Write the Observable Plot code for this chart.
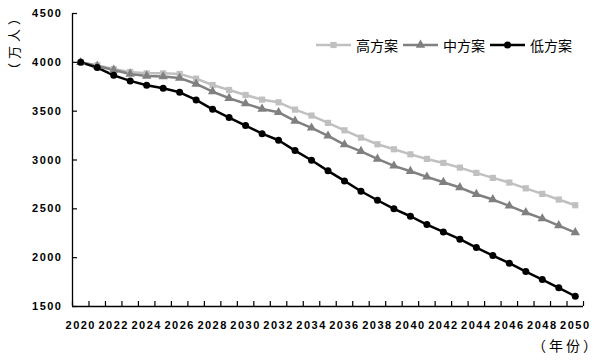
<!DOCTYPE html>
<html><head><meta charset="utf-8">
<script src="https://cdn.jsdelivr.net/npm/d3@7"></script>
<script src="https://cdn.jsdelivr.net/npm/@observablehq/plot@0.6"></script>
<style>
body{margin:0;background:#fff;}
#wrap{position:relative;width:601px;height:360px;overflow:hidden;}
#legend{position:absolute;left:316px;top:36px;height:18px;display:flex;align-items:center;font:14px "Noto Sans CJK SC",sans-serif;color:#000;}
#legend .item{display:flex;align-items:center;margin-right:5px;}
#legend svg{margin-right:5px;display:block;}
.title{position:absolute;font:14px "Noto Sans CJK SC",sans-serif;color:#000;white-space:nowrap;line-height:1;}
#ytitle{left:13px;top:41.5px;font-size:13px;letter-spacing:4px;transform:translate(-50%,-50%) rotate(-90deg);}
#xtitle{left:532px;top:338px;letter-spacing:3px;}
.chart g[aria-label="y-axis tick label"] text,.chart g[aria-label="x-axis tick label"] text{letter-spacing:1.5px;}
</style></head><body><div id="wrap"></div>
<script>
const series = ["高方案", "中方案", "低方案"];
const years = [2020,2021,2022,2023,2024,2025,2026,2027,2028,2029,2030,2031,2032,2033,2034,2035,2036,2037,2038,2039,2040,2041,2042,2043,2044,2045,2046,2047,2048,2049,2050];
const high = [4000,3969,3932,3902,3887,3887,3881,3833,3768,3717,3666,3618,3591,3516,3455,3380,3304,3229,3161,3110,3058,3011,2970,2922,2868,2817,2769,2710,2653,2595,2537];
const mid  = [4000,3963,3922,3881,3861,3854,3840,3779,3700,3632,3577,3523,3488,3400,3329,3247,3158,3089,3011,2940,2885,2827,2772,2718,2649,2595,2530,2462,2400,2329,2257];
const low  = [4000,3946,3867,3810,3765,3734,3693,3615,3519,3434,3352,3270,3202,3096,2997,2889,2786,2680,2588,2500,2424,2339,2264,2189,2104,2022,1943,1858,1776,1691,1605];
const yTicks = [1500,2000,2500,3000,3500,4000,4500];
const xLabels = [2020,2022,2024,2026,2028,2030,2032,2034,2036,2038,2040,2042,2044,2046,2048,2050];
const colors = ["#c0c0c0", "#808080", "#000000"];
const symbols = ["square", "triangle", "circle"];
const yTitle = "（万人）";
const xTitle = "（年份）";

const values = [high, mid, low];
const data = [];
series.forEach((s, k) => years.forEach((yr, i) => data.push({year: yr, v: values[k][i], s})));
const bounds = years.map(y => y - 0.5).concat([years[years.length - 1] + 0.5]);

const W = 601, H = 360, mL = 72, mR = 18, mT = 13, mB = 54, tick = 5;
const plotW = W - mL - mR, plotH = H - mT - mB;

const chart = Plot.plot({
  width: W, height: H,
  marginLeft: mL, marginRight: mR, marginTop: mT, marginBottom: mB,
  className: "chart",
  style: {fontFamily: "'Liberation Sans', Arial, sans-serif", fontSize: "11px", fontWeight: "bold", color: "#000", background: "#fff", overflow: "visible"},
  x: {domain: [bounds[0], bounds[bounds.length - 1]]},
  y: {domain: [yTicks[0], yTicks[yTicks.length - 1]]},
  color: {domain: series, range: colors},
  symbol: {domain: series, range: symbols},
  marks: [
    Plot.axisY({ticks: yTicks, tickSize: 0, tickPadding: 10, tickFormat: d => String(d), label: null}),
    Plot.axisX({ticks: xLabels, tickSize: 0, tickPadding: 15, tickFormat: d => String(d), label: null}),
    Plot.ruleY(yTicks, {y: d => d, insetRight: plotW - tick, stroke: "#000", strokeWidth: 1.2}),
    Plot.ruleX(bounds, {x: d => d, insetTop: plotH - tick, stroke: "#000", strokeWidth: 1.2}),
    Plot.ruleX([bounds[0]], {stroke: "#000", strokeWidth: 1.3}),
    Plot.ruleY([yTicks[0]], {stroke: "#000", strokeWidth: 1.3}),
    Plot.line(data, {x: "year", y: "v", z: "s", stroke: "s", strokeWidth: 2.5}),
    Plot.dot(data, {x: "year", y: "v", fill: "s", symbol: "s", r: 3.5, stroke: "none"})
  ]
});
const wrap = document.getElementById("wrap");
wrap.appendChild(chart);

const yt = document.createElement("div");
yt.className = "title"; yt.id = "ytitle"; yt.textContent = yTitle;
wrap.appendChild(yt);
const xt = document.createElement("div");
xt.className = "title"; xt.id = "xtitle"; xt.textContent = xTitle;
wrap.appendChild(xt);

const legend = document.createElement("div");
legend.id = "legend";
const ns = "http://www.w3.org/2000/svg";
series.forEach((s, k) => {
  const item = document.createElement("div");
  item.className = "item";
  const svg = document.createElementNS(ns, "svg");
  svg.setAttribute("width", 35); svg.setAttribute("height", 12);
  const line = document.createElementNS(ns, "line");
  line.setAttribute("x1", 0); line.setAttribute("x2", 35); line.setAttribute("y1", 6); line.setAttribute("y2", 6);
  line.setAttribute("stroke", colors[k]); line.setAttribute("stroke-width", 2.5);
  svg.appendChild(line);
  const p = document.createElementNS(ns, "path");
  const sym = {square: d3.symbolSquare, triangle: d3.symbolTriangle, circle: d3.symbolCircle}[symbols[k]];
  p.setAttribute("d", d3.symbol(sym, Math.PI * 3.5 * 3.5)());
  p.setAttribute("transform", "translate(17.5,6)");
  p.setAttribute("fill", colors[k]);
  svg.appendChild(p);
  item.appendChild(svg);
  const t = document.createElement("span");
  t.textContent = s;
  item.appendChild(t);
  legend.appendChild(item);
});
wrap.appendChild(legend);
</script></body></html>
